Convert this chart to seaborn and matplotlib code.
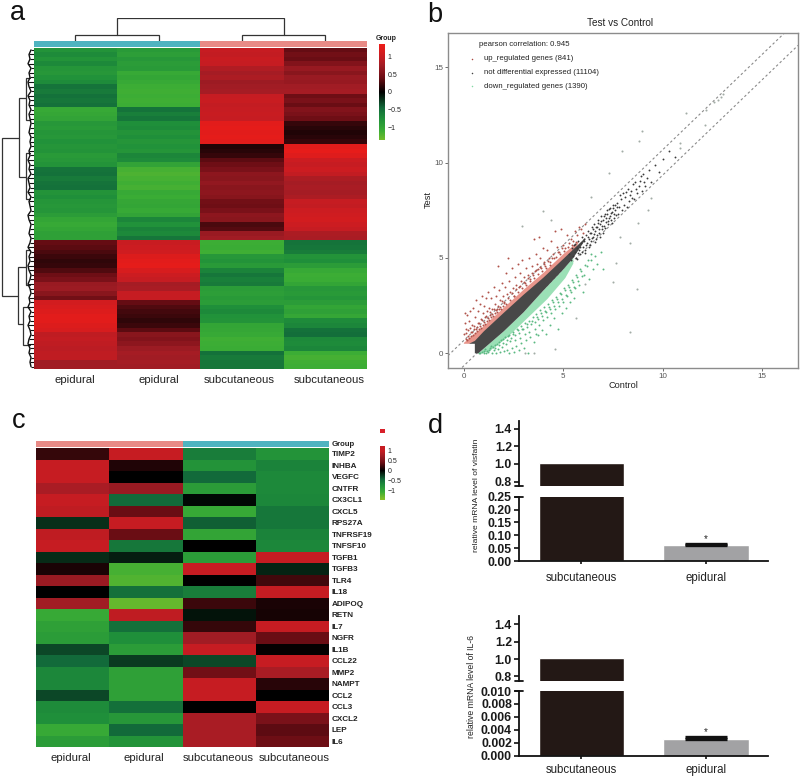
import numpy as np
import pandas as pd
import matplotlib
matplotlib.use("Agg")
import matplotlib.pyplot as plt
from matplotlib.colors import LinearSegmentedColormap, ListedColormap
import seaborn as sns

W, H = 800, 776

# ---------- panel a ----------
a_col1 = [-.80,-.72,-.80,-.70,-.82,-.85,-.78,-.72,-.52,-.58,-.50,-.55,-.50,-1.05,-1.02,-.98,
          -.85,-.88,-.82,-.85,-.78,-.82,-.80,-.88,-.85,-.80,-.52,-.50,-.58,-.52,-.50,
          -.80,-.75,-.82,-.85,-.82,-.90,-1.0,-1.05,-1.0,-.95,-.95,
          .38,.34,.28,.22,.18,.2,.3,.42,.5,.7,.72,.6,.45,1.1,1.15,1.2,1.25,1.25,1.2,1.15,
          .95,.98,.95,.92,.95,.95,.75,.75]
a_col2 = [-.88,-.92,-.85,-.9,-.88,-1.05,-1.0,-1.05,-1.1,-1.12,-1.1,-1.12,-1.1,-.52,-.62,-.55,
          -.75,-.72,-.8,-.75,-.82,-.78,-.82,-.68,-.72,-.98,-1.15,-1.18,-1.15,-1.12,-1.15,
          -1.05,-1.08,-1.02,-1.0,-1.05,-.98,-.68,-.78,-.65,-.7,-.55,
          1.02,1.05,1.08,1.2,1.25,1.28,1.15,1.05,1.0,.78,.8,1.0,1.0,.38,.3,.25,.22,.18,.22,.35,
          .6,.55,.62,.72,.78,.75,.78,.75]
a_col3 = [1.0,.98,1.02,1.0,.85,.78,.82,.72,.75,.78,1.0,1.02,.98,1.0,1.02,1.0,
          1.25,1.28,1.25,1.28,1.25,.12,.15,.2,.35,.42,.5,.62,.6,.65,.6,.62,.58,.45,.42,.5,
          .62,.6,.28,.32,.7,.75,-1.1,-1.08,-1.12,-.85,-.8,-.88,-.65,-.55,-.62,-.58,
          -.9,-.92,-.88,-.9,-.75,-.7,-.78,-.8,-1.0,-1.02,-1.05,-1.12,-1.1,-1.08,-.5,-.58,-.55,-.55]
a_col4 = [.38,.45,.4,.55,.68,.6,.7,.68,.75,.78,.42,.5,.4,.55,.5,.42,.2,.15,.12,.15,.2,
          1.25,1.3,1.22,1.05,1.0,1.05,.98,.82,.78,.8,.78,.82,1.0,.98,1.05,1.08,1.1,1.05,1.0,.82,.8,
          -.52,-.55,-.6,-.8,-.75,-.9,-1.05,-1.1,-1.08,-1.0,-.85,-.88,-.82,-.9,-1.0,-.95,-1.02,
          -.72,-.68,-.5,-.48,-.7,-.72,-.68,-1.1,-1.15,-1.12,-1.1]
a_labels = ["epidural", "epidural", "subcutaneous", "subcutaneous"]
a_group = [0, 0, 1, 1]

# top dendrogram
col_h = [23, 6, 6]
col_a = [1, .5, 2.5]
col_b = [3, 1.5, 3.5]
col_ha = [6, 0, 0]
col_hb = [6, 0, 0]
# left dendrogram
link_depth = [2, 19, 26, 26, 18, 26, 23]
link_a = [19.7, 10.9, 6.6, 22.9, 47.7, 44, 56.6]
link_b = [54, 28.1, 15.7, 33, 60.3, 51.6, 64.7]
link_ca = [19, 26, 30, 30, 26, 30, 30]
link_cb = [18, 26, 30, 30, 23, 30, 30]
leaf_depth = [31,29,30,28,31,29,30,28,29,31,28,30,29,31,29,30,31,30,29,31,30,31,29,30,
              28,30,29,31,28,29,30,28,31,29,30,31,28,29,31,30,29,31,
              30,28,31,29,30,28,29,31,30,28,30,31,29,30,28,31,29,30,28,30,31,29,28,30,29,31,30,31]

# ---------- panel b ----------
b_band_x = [.25,.55,1,2,3,4,5,5.5,6.1,6.1,5.5,5,4,3,2,1,.72,.55,.55,.25]
b_band_y = [.5,.65,1.15,2.12,3.07,3.97,4.95,5.45,6.05,5.95,5.0,4.4,3.3,2.15,1.15,.25,0,0,.5,.5]
b_red_x = [0,1,2,3,4,5,5.8,5.6,5,4,3,2,1,.55,.25,0]
b_red_y = [.55,1.42,2.38,3.33,4.22,5.2,5.9,5.4,4.8,3.85,2.95,2.0,1.05,.6,.5,.5]
b_grn_x = [.55,.72,1,2,3,4,5,5.5,5.5,5.1,4.2,3.2,2.2,1.3,.9,.55]
b_grn_y = [0,0,.25,1.15,2.15,3.3,4.4,5.0,4.7,3.95,2.85,1.85,.85,0.12,0,0]

up_x = [.02,.05,.03,.1,.15,.2,.25,.3,.35,.4,.45,.5,.55,.6,.65,.7,.75,.8,.85,.9,.95,1.0,1.05,1.1,1.15,1.2,1.25,1.3,1.35,1.4,
        1.5,1.55,1.6,1.65,1.7,1.75,1.8,1.9,1.95,2.0,2.05,2.1,2.15,2.2,2.25,2.3,2.4,2.45,2.5,2.55,2.6,2.7,2.75,2.8,2.85,2.9,
        3.0,3.05,3.1,3.2,3.25,3.3,3.4,3.45,3.5,3.55,3.6,3.7,3.75,3.8,3.85,3.9,4.0,4.05,4.1,4.2,4.3,4.35,4.4,4.5,4.55,4.6,
        4.7,4.8,4.9,5.0,5.1,5.2,5.3,5.4,5.5,5.6,5.7,5.8,5.9,6.0,6.1]
up_y = [1.0,1.6,2.1,1.3,2.0,.9,1.7,2.2,1.1,1.5,2.4,1.25,1.9,2.8,1.4,2.2,1.6,2.6,1.8,3.0,2.1,2.5,1.9,2.9,2.2,3.2,2.4,2.0,2.9,2.3,
        3.5,2.6,3.0,2.35,4.6,3.3,2.8,3.7,3.0,2.7,3.5,4.2,3.1,5.0,3.8,3.2,4.5,3.4,3.0,4.0,3.6,4.7,3.5,4.2,3.8,4.9,
        4.0,3.7,4.5,4.1,5.0,3.9,4.6,4.1,6.0,4.3,5.2,4.7,4.4,6.1,5.0,4.5,5.5,4.8,4.6,5.4,5.0,4.8,5.9,5.2,5.0,6.4,
        5.6,5.3,6.5,5.7,5.5,6.2,5.8,6.0,5.9,6.4,6.2,6.6,6.5,6.3,6.8]
up2_x = [.08,.12,.18,.22,.28,.33,.38,.43,.48,.53,.58,.63,.68,.73,.78,.83,.88,.93,.98,1.03,1.08,1.13,1.18,1.23,1.28,1.33,1.38,1.43,1.48,
         1.53,1.58,1.63,1.68,1.73,1.78,1.83,1.88,1.93,1.98,2.03,2.13,2.23,2.33,2.43,2.53,2.63,2.73,2.83,2.93,3.03,3.13,3.23,3.33,3.43,
         3.53,3.63,3.73,3.83,3.93,4.03,4.13,4.23,4.33,4.43,4.63,4.73,4.83,4.93,5.03,5.23,5.43,5.63]
up2_y = [.75,1.05,.7,1.2,.82,1.35,.9,1.1,.95,1.45,1.05,1.25,1.15,1.6,1.3,1.45,1.35,1.75,1.5,1.65,1.55,1.95,1.7,1.85,1.75,2.15,1.9,2.05,1.95,
         2.35,2.1,2.25,2.15,2.5,2.3,2.45,2.35,2.75,2.5,2.65,2.6,2.9,2.8,3.15,3.0,3.35,3.2,3.55,3.4,3.75,3.6,3.95,3.8,4.2,
         3.95,4.35,4.15,4.55,4.3,4.7,4.5,4.85,4.65,5.0,5.05,5.3,5.2,5.5,5.35,5.55,5.7,5.85]
down_x = [.8,1.0,1.1,1.2,1.3,1.4,1.5,1.55,1.6,1.7,1.75,1.8,1.9,1.95,2.0,2.1,2.15,2.2,2.25,2.3,2.4,2.45,2.5,2.55,2.6,2.7,2.75,2.8,2.85,2.9,
          3.0,3.05,3.1,3.15,3.2,3.25,3.3,3.4,3.5,3.55,3.6,3.7,3.75,3.8,3.9,3.95,4.0,4.1,4.15,4.2,4.3,4.35,4.4,4.5,4.55,4.6,4.7,4.75,4.8,4.9,4.95,
          5.0,5.1,5.15,5.2,5.3,5.35,5.4,5.5,5.55,5.6,5.7,5.8,5.9,6.0,6.05,6.2,6.3,6.4,6.5,6.6,6.7,6.9,7.0]
down_y = [.02,.1,0,.05,.3,.02,.15,.45,.03,.25,.6,.05,.35,.75,.1,.5,.2,.9,.02,.65,.3,1.0,.05,.7,.4,1.2,.15,.8,.55,1.3,
          .3,1.0,.7,1.55,.02,1.1,.85,1.7,.6,1.3,1.0,1.9,.95,1.5,2.1,1.2,1.75,2.2,1.0,1.9,2.45,1.5,2.1,2.7,1.85,2.3,2.85,1.3,2.5,3.1,2.1,
          2.7,3.3,2.4,3.0,3.5,2.7,3.2,3.75,2.9,3.45,4.0,3.6,4.3,3.2,4.1,4.6,3.9,4.9,4.4,5.1,4.7,5.3,4.4]
down2_x = [.75,.9,1.0,1.05,1.15,1.25,1.35,1.45,1.55,1.65,1.75,1.85,1.95,2.05,2.15,2.25,2.35,2.45,2.55,2.65,2.75,2.85,2.95,3.05,3.15,3.25,3.35,3.45,
           3.55,3.65,3.75,3.85,3.95,4.05,4.15,4.25,4.35,4.45,4.55,4.65,4.75,4.85,4.95,5.05,5.15,5.25,5.35,5.45,5.55,5.65,5.75,5.85,5.95,6.1,6.25,6.4]
down2_y = [.03,.08,.02,.22,.12,.2,.38,.32,.28,.5,.42,.68,.55,.85,.72,.98,.82,1.12,.95,1.28,1.08,1.42,1.25,1.58,1.38,1.72,1.52,1.88,
           1.65,2.05,1.82,2.25,1.98,2.42,2.15,2.6,2.32,2.8,2.48,2.98,2.68,3.15,2.85,3.4,3.05,3.6,3.3,3.85,3.5,4.1,3.8,4.4,4.05,4.65,4.9,5.2]
mid_x = [5.3,5.4,5.45,5.5,5.55,5.6,5.65,5.7,5.75,5.8,5.85,5.9,5.95,6.0,6.05,6.1,6.15,6.2,6.25,6.3,6.35,6.4,6.45,6.5,6.55,6.6,6.65,6.7,6.75,6.8,
         6.85,6.9,6.95,7.0,7.05,7.1,7.15,7.2,7.25,7.3,7.35,7.4,7.45,7.5,7.55,7.6,7.7,7.75,7.8,7.9,7.95,8.0,8.05,8.1,8.2,8.25,8.3,8.4,8.5,8.55,
         8.6,8.7,8.8,8.9,8.95,9.0,9.1,9.2,9.3,9.4,9.6,9.8,10.0,10.3,10.6]
mid_y = [5.2,4.9,5.5,5.1,5.7,5.3,5.0,5.5,5.9,5.4,5.2,5.8,6.1,5.6,5.9,5.4,6.2,5.8,6.4,6.0,5.7,6.3,6.6,6.1,6.8,6.4,6.0,6.6,7.0,6.3,
         6.8,7.2,6.5,7.0,6.7,7.3,6.9,7.5,6.8,7.1,7.6,7.0,7.4,7.8,7.1,7.5,7.9,7.3,7.7,8.1,7.5,8.4,7.8,8.2,7.7,8.6,8.0,8.5,8.9,8.1,
         9.0,8.4,8.8,9.3,8.5,9.4,8.8,9.2,9.6,9.0,9.9,9.5,10.2,10.6,10.3]
mid2_x = [5.6,5.7,5.75,5.85,5.95,6.02,6.08,6.12,6.22,6.28,6.33,6.38,6.42,6.48,6.53,6.58,6.63,6.68,6.72,6.78,6.83,6.88,6.93,6.98,7.03,7.08,7.13,7.18,
          7.23,7.28,7.33,7.38,7.43,7.48,7.53,7.58,7.65,7.72,7.85,8.15,8.35,8.45,8.65,8.85,9.05]
mid2_y = [5.75,4.95,5.25,5.55,5.3,6.0,5.25,5.7,6.1,5.55,6.3,5.9,6.05,6.5,6.25,5.85,6.6,6.2,6.85,6.5,6.1,6.95,6.7,6.3,7.2,6.55,7.1,7.3,
          6.95,7.55,7.2,7.35,6.85,7.6,7.3,7.8,7.25,7.65,8.3,8.45,8.3,8.15,8.6,9.05,9.0]
out_x = [11.19,8.96,8.79,7.97,10.85,10.85,12.1,7.3,3.98,4.37,2.9,6.41,9.25,9.42,8.75,7.86,8.33,7.66,7.49,8.71,8.36,6.07,5.65,4.6,3.53,3.06,
         12.6,12.77,12.93,13.04,12.17]
out_y = [12.59,11.66,11.14,10.63,11.01,10.75,11.98,9.44,7.48,6.99,6.7,8.22,7.52,8.13,6.85,6.08,5.77,4.72,3.76,3.36,1.1,3.64,1.84,.23,0,.03,
         13.2,13.29,13.43,13.6,12.76]
b_legend = ["up_regulated genes (841)", "not differential expressed (11104)", "down_regulated genes (1390)"]

# ---------- panel c ----------
genes = ["TIMP2","INHBA","VEGFC","CNTFR","CX3CL1","CXCL5","RPS27A","TNFRSF19","TNFSF10","TGFB1","TGFB3","TLR4","IL18",
         "ADIPOQ","RETN","IL7","NGFR","IL1B","CCL22","MMP2","NAMPT","CCL2","CCL3","CXCL2","LEP","IL6"]
c_col1 = [.2,1.05,1.2,.8,1.25,.95,-.2,.95,1.25,-.18,.1,.7,0,.75,-1.05,-.95,-.9,-.3,-.45,-.68,-.68,-.3,-.72,-.75,-1.05,-.9]
c_col2 = [1.0,.12,0,.7,-.45,.4,1.2,.4,-.55,-.12,-1.15,-1.2,-.5,-1.3,.95,-.5,-.75,-.9,-.25,-.95,-.95,-.95,-.5,-.85,-.45,-.8]
c_col3 = [-.6,-.8,-.45,-.9,-.03,-1.05,-.4,-1.0,0,-.9,1.0,0,-.6,.22,-.08,.2,.75,1.2,-.3,.45,1.2,1.25,0,.8,.8,.8]
c_col4 = [-.8,-.65,-.7,-.7,-.68,-.55,-.55,-.65,-.68,1.25,-.15,.25,1.25,.1,.08,1.0,.4,.02,1.2,.8,.15,0,1.25,.5,.35,.42]
c_labels = ["epidural", "epidural", "subcutaneous", "subcutaneous"]
c_group = [1, 1, 0, 0]
cbar_ticks = [1, .5, 0, -.5, -1]
cbar_labels = ["1", "0.5", "0", "\u22120.5", "\u22121"]

# ---------- panel d ----------
d_cats = ["subcutaneous", "epidural"]
d1_vals = [1.01, 0.063]
d1_err = [0.0, 0.004]
d2_vals = [1.01, 0.00253]
d2_err = [0.0, 0.0003]
d1_low_ticks = [0, .05, .10, .15, .20, .25]
d2_low_ticks = [0, .002, .004, .006, .008, .010]
d_up_ticks = [.8, 1.0, 1.2, 1.4]

# colour scale
node_vals = [-1.5, -1.36, -1.1, -.75, -.45, 0, .4, .75, 1.0, 1.36]
node_cols = ["#8ac028", "#72bb2b", "#3bad35", "#1f8f3a", "#126a3a", "#000000", "#6a0d14", "#a11c24", "#c61c22", "#ee1c18"]


def make_cmap(vmin, vmax):
    keep = [(v, c) for v, c in zip(node_vals, node_cols) if vmin <= v <= vmax]
    if keep[0][0] > vmin:
        keep.insert(0, (vmin, keep[0][1]))
    if keep[-1][0] < vmax:
        keep.append((vmax, keep[-1][1]))
    return LinearSegmentedColormap.from_list(
        "gbr", [((v - vmin) / (vmax - vmin), c) for v, c in keep], N=512)


sns.set_theme(style="white")
plt.rcParams["font.family"] = ["Liberation Sans", "DejaVu Sans"]
fig = plt.figure(figsize=(W / 100, H / 100), dpi=100, facecolor="white")


def axpx(x0, y0, x1, y1):
    return fig.add_axes([x0 / W, 1 - y1 / H, (x1 - x0) / W, (y1 - y0) / H])


def tpx(x, y, s, **kw):
    kw.setdefault("ha", "center")
    kw.setdefault("va", "center")
    fig.text(x / W, 1 - y / H, s, **kw)


ANNOT = ListedColormap(["#4fb4c0", "#e88a86"])
INK = "#222222"

# ---- a ----
ax = axpx(33.5, 47.6, 367, 369)
cax = axpx(379, 44, 385, 140)
a_df = pd.DataFrame({"a": a_col1, "b": a_col2, "c": a_col3, "d": a_col4})
sns.heatmap(a_df, ax=ax, cbar_ax=cax, cmap=make_cmap(-1.36, 1.36), vmin=-1.36, vmax=1.36,
            yticklabels=False)
ax.set_xticks([.5, 1.5, 2.47, 3.55], a_labels, rotation=0, fontsize=8.2, color=INK)
ax.tick_params(axis="x", length=0, pad=4)
ax.set_ylabel("")
cax.set_yticks(cbar_ticks, cbar_labels)
cax.tick_params(length=0, labelsize=5, pad=2, labelcolor=INK)
tpx(386.5, 39, "Group", fontsize=5, fontweight="bold", color=INK)

bx = axpx(33.5, 41, 367, 46.5)
sns.heatmap(pd.DataFrame([a_group]), ax=bx, cmap=ANNOT, cbar=False, xticklabels=False, yticklabels=False, vmin=0, vmax=1)

tx = axpx(33.5, 18, 367, 41)
for h, a, b, ha, hb in zip(col_h, col_a, col_b, col_ha, col_hb):
    tx.plot([a, a, b, b], [ha, h, h, hb], color="#333333", lw=.9, solid_joinstyle="miter")
tx.set_xlim(0, 4)
tx.set_ylim(0, 23)
tx.axis("off")

lx = axpx(0, 47.6, 33.5, 369)
for d, a, b, ca, cb in zip(link_depth, link_a, link_b, link_ca, link_cb):
    lx.plot([ca, d, d, cb], [a, a, b, b], color="#333333", lw=.9, solid_joinstyle="miter", clip_on=False)
rows = np.arange(len(leaf_depth)) + .5
lx.plot(leaf_depth, rows, color="#111111", lw=1.0)
lx.hlines(rows, leaf_depth, 33.5, color="#111111", lw=.8)
lx.set_xlim(0, 33.5)
lx.set_ylim(70, 0)
lx.axis("off")

# ---- b ----
ax = axpx(448, 33, 798, 368)
ax.set_xlim(-.8, 16.8)
ax.set_ylim(-.77, 16.8)
line_x = np.array([-.8, 16.8])
for off in (.68, -.65):
    ax.plot(line_x, line_x + off, color="#8a8a8a", lw=.8, ls=(0, (2.2, 2.2)), zorder=1)
ax.fill(b_red_x, b_red_y, color="#e8958b", lw=0, zorder=2)
ax.fill(b_grn_x, b_grn_y, color="#9be0b6", lw=0, zorder=2)
sns.scatterplot(x=out_x, y=out_y, s=2.2, color="#a3aca6", linewidth=0, ax=ax, zorder=3)
for xs, ys in ((up_x, up_y), (up2_x, up2_y)):
    sns.scatterplot(x=xs, y=ys, s=2, color="#b0524a", linewidth=0, ax=ax, zorder=3)
for xs, ys in ((down_x, down_y), (down2_x, down2_y)):
    sns.scatterplot(x=xs, y=ys, s=2, color="#5bb982", linewidth=0, ax=ax, zorder=3)
ax.fill(b_band_x, b_band_y, color="#484848", lw=0, zorder=4)
for xs, ys in ((mid_x, mid_y), (mid2_x, mid2_y)):
    sns.scatterplot(x=xs, y=ys, s=1.8, color="#3a3a3a", linewidth=0, ax=ax, zorder=5)
ax.set_xticks([0, 5, 10, 15])
ax.set_yticks([0, 5, 10, 15])
ax.tick_params(length=2, width=.6, color="#555555", labelsize=5.8, labelcolor="#555555", pad=1.5,
               bottom=True, left=True)
for s in ax.spines.values():
    s.set_visible(True)
    s.set_color("#8c8c8c")
    s.set_linewidth(1.0)
ax.set_xlabel("")
ax.set_ylabel("")
tpx(620, 23, "Test vs Control", fontsize=7.2, color=INK)
tpx(623, 385, "Control", fontsize=6.6, color=INK)
tpx(428.5, 200, "Test", fontsize=6.6, color=INK, rotation=90)
tpx(479, 45, "pearson correlation: 0.945", fontsize=5.6, color=INK, ha="left")
for yy, lab, col in zip((59, 72.7, 86), b_legend, ("#a8463f", "#444444", "#84d8a4")):
    tpx(484, yy, lab, fontsize=5.6, color=INK, ha="left")
    fig.add_artist(plt.Line2D([472 / W], [1 - yy / H], marker="o", ms=1.1, mew=0, color=col))

# ---- c ----
ax = axpx(36, 448, 329, 747)
cax = axpx(379.5, 446, 385, 500)
c_df = pd.DataFrame({"a": c_col1, "b": c_col2, "c": c_col3, "d": c_col4}, index=genes)
sns.heatmap(c_df, ax=ax, cbar_ax=cax, cmap=make_cmap(-1.5, 1.25), vmin=-1.5, vmax=1.25,
            yticklabels=True)
ax.set_xticks([.48, 1.47, 2.49, 3.52], c_labels, rotation=0, fontsize=8.2, color=INK)
ax.yaxis.tick_right()
ax.tick_params(axis="both", length=0)
ax.tick_params(axis="x", pad=4)
ax.tick_params(axis="y", pad=2, labelsize=5.9, labelrotation=0, labelcolor=INK)
for t in ax.get_yticklabels():
    t.set_fontweight("bold")
cax.set_yticks(cbar_ticks, cbar_labels)
cax.tick_params(length=0, labelsize=5, pad=2, labelcolor=INK)

bx = axpx(36, 441, 329, 447)
sns.heatmap(pd.DataFrame([c_group]), ax=bx, cmap=ANNOT, cbar=False, xticklabels=False, yticklabels=False, vmin=0, vmax=1)
tpx(331.5, 444, "Group", fontsize=5.6, fontweight="bold", color=INK, ha="left")
sw = axpx(380, 429, 385, 433)
sw.set_facecolor("#d8202a")
sw.set_xticks([])
sw.set_yticks([])
for s in sw.spines.values():
    s.set_visible(False)

# ---- d ----


def bars(top, brk_up, brk_low, bottom, y10, y08, low_top, low_ticks, low_fmt, vals, errs, xpad):
    per = (y08 - y10) / .2
    up_lo = 1 - (brk_up - y10) / per
    up_hi = 1 + (y10 - top) / per
    xl = (-.502, 1.498)
    up = axpx(519, top, 768, brk_up)
    low = axpx(519, brk_low, 768, bottom)
    df = pd.DataFrame({"cat": d_cats, "val": vals})
    for a in (up, low):
        sns.barplot(df, x="cat", y="val", hue="cat", palette=["#231815", "#a2a2a4"], width=.687,
                    saturation=1, legend=False, ax=a, errorbar=None)
        a.set_xlim(*xl)
        a.set_xlabel("")
        a.set_ylabel("")
        sns.despine(ax=a, top=True, right=True)
        a.spines["left"].set_linewidth(1.3)
        a.spines["left"].set_color("#111111")
        a.tick_params(axis="y", left=True, length=3.6, width=1.2, color="#111111", pad=1.5, labelsize=8.8,
                      labelcolor="#1a1a1a")
    up.set_ylim(up_lo, up_hi)
    up.set_yticks(d_up_ticks, [f"{v:.1f}" for v in d_up_ticks], fontweight="bold")
    up.spines["bottom"].set_visible(False)
    up.set_xticks([])
    low.set_ylim(0, low_top)
    low.set_yticks(low_ticks, [low_fmt.format(v) for v in low_ticks], fontweight="bold")
    low.spines["bottom"].set_linewidth(1.3)
    low.spines["bottom"].set_color("#111111")
    low.set_xticks([0, 1], d_cats, fontsize=8.3)
    low.tick_params(axis="x", bottom=True, length=2.5, width=1.2, color="#111111", pad=xpad, labelcolor="#222222")
    low.errorbar([1], [vals[1]], yerr=[[0], [errs[1]]], color="#111111", capsize=15, capthick=2.4, elinewidth=1, zorder=6)
    low.text(1, vals[1] + errs[1], "*", ha="center", va="bottom", fontsize=7, color="#222222")
    up.plot([-.016, .016], [0, 0], transform=up.transAxes, color="#111111", lw=1.3, clip_on=False)
    low.plot([-.016, .016], [1, 1], transform=low.transAxes, color="#111111", lw=1.3, clip_on=False)
    return up, low


bars(421, 486, 496.7, 561, 464, 481.7, .25, d1_low_ticks, "{:.2f}", d1_vals, d1_err, 5.5)
bars(616, 681, 691, 755.7, 659, 676.3, .010, d2_low_ticks, "{:.3f}", d2_vals, d2_err, 3.2)
tpx(477, 495, "relative mRNA level of visfatin", fontsize=6.1, rotation=90, color="#222222")
tpx(472, 686.5, "relative mRNA level of IL-6", fontsize=6.2, rotation=90, color="#222222")

# panel letters
for (x, y, s) in [(17, 20, "a"), (435, 22, "b"), (19, 428, "c"), (435, 433, "d")]:
    tpx(x, y, s, fontsize=19.5, color="#111111", va="baseline")

fig.savefig("out.png", dpi=100, facecolor="white")
